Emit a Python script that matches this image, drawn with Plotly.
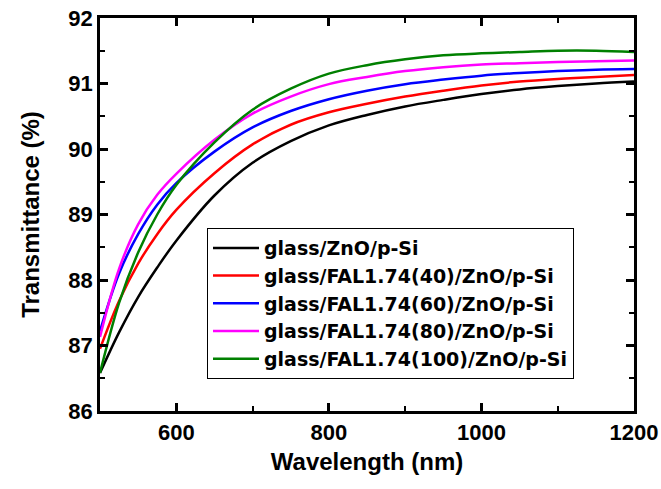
import plotly.graph_objects as go

wavelength = [500, 525, 550, 575, 600, 650, 700, 750, 800, 850, 900, 950, 1000, 1050, 1100, 1150, 1200]
series_names = [
    "glass/ZnO/p-Si",
    "glass/FAL1.74(40)/ZnO/p-Si",
    "glass/FAL1.74(60)/ZnO/p-Si",
    "glass/FAL1.74(80)/ZnO/p-Si",
    "glass/FAL1.74(100)/ZnO/p-Si",
]
t_ref = [86.58, 87.20, 87.74, 88.19, 88.60, 89.29, 89.79, 90.12, 90.36, 90.52, 90.65, 90.75, 90.84, 90.91, 90.96, 91.00, 91.03]
t_40 = [86.95, 87.68, 88.25, 88.70, 89.07, 89.63, 90.07, 90.37, 90.56, 90.69, 90.80, 90.89, 90.97, 91.03, 91.07, 91.10, 91.13]
t_60 = [87.22, 88.10, 88.70, 89.15, 89.48, 89.96, 90.33, 90.58, 90.76, 90.89, 90.99, 91.06, 91.12, 91.16, 91.19, 91.21, 91.22]
t_80 = [87.13, 88.17, 88.85, 89.30, 89.62, 90.14, 90.54, 90.80, 90.99, 91.10, 91.19, 91.25, 91.29, 91.31, 91.33, 91.34, 91.35]
t_100 = [86.58, 87.65, 88.42, 89.00, 89.45, 90.10, 90.60, 90.92, 91.15, 91.28, 91.37, 91.43, 91.46, 91.48, 91.50, 91.50, 91.48]
colors = ["#000000", "#ff0000", "#0000ff", "#ff00ff", "#008000"]

x_ticks = [600, 800, 1000, 1200]
y_ticks = [86, 87, 88, 89, 90, 91, 92]

FONT = "Liberation Sans"
LEG_FONT = "DejaVu Sans"

fig = go.Figure()
for name, vals, c in zip(series_names, [t_ref, t_40, t_60, t_80, t_100], colors):
    fig.add_trace(go.Scatter(x=wavelength, y=vals, mode="lines", name=name,
                             line=dict(color=c, width=2.5, shape="spline", smoothing=1.0)))

axis_common = dict(showline=True, linecolor="black", linewidth=2.5, mirror="ticks",
                   ticks="inside", ticklen=8, tickwidth=2.5, tickcolor="black",
                   showgrid=False, zeroline=False, automargin=False,
                   tickfont=dict(family=FONT, size=22, color="black", weight="bold"))

fig.update_layout(
    width=661, height=489,
    margin=dict(l=100, r=27, t=18, b=78),
    paper_bgcolor="white", plot_bgcolor="white",
    font=dict(family=FONT, color="black", weight="bold"),
    xaxis=dict(range=[500, 1200], tickvals=x_ticks,
               minor=dict(dtick=100, tick0=500, ticks="inside", ticklen=5, tickwidth=2, tickcolor="black"),
               title=dict(text="Wavelength (nm)", font=dict(family=FONT, size=24, weight="bold"), standoff=10),
               **axis_common),
    yaxis=dict(range=[86, 92], tickvals=y_ticks,
               minor=dict(dtick=0.5, tick0=86, ticks="inside", ticklen=5, tickwidth=2, tickcolor="black"),
               title=dict(text="Transmittance (%)", font=dict(family=FONT, size=24, weight="bold"), standoff=22),
               **axis_common),
    legend=dict(x=0.2, y=0.466, xanchor="left", yanchor="top",
                bgcolor="white", bordercolor="black", borderwidth=1.2,
                font=dict(family=LEG_FONT, size=19, color="black", weight="bold"),
                tracegroupgap=0, itemwidth=46),
    showlegend=True,
)

fig.write_html("out.html")
